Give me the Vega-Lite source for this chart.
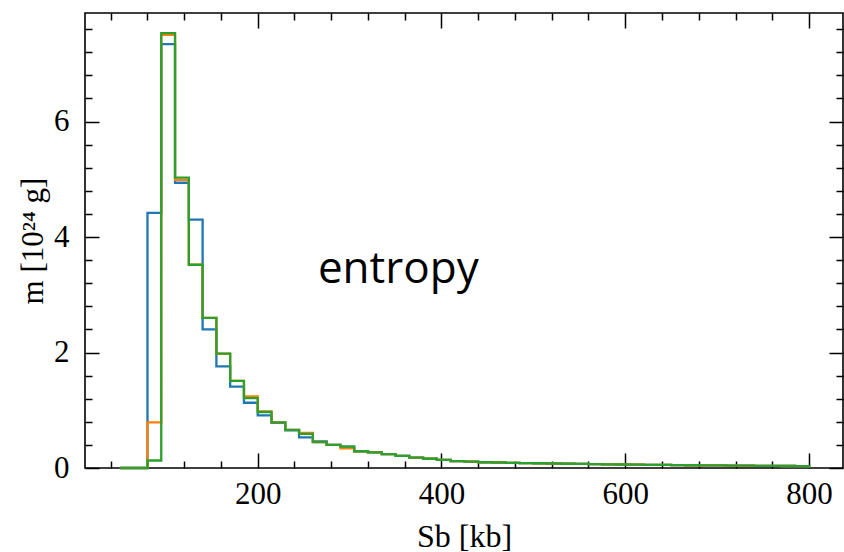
{
  "$schema": "https://vega.github.io/schema/vega-lite/v6.json",
  "width": 758,
  "height": 455,
  "autosize": "none",
  "padding": {"left": 85, "top": 13, "right": 1, "bottom": 84},
  "background": "white",
  "config": {
    "view": {"stroke": "black", "strokeWidth": 1.6},
    "axis": {
      "domain": false,
      "grid": false,
      "tickColor": "black",
      "tickWidth": 1.5,
      "labelColor": "black",
      "labelFont": "Liberation Serif",
      "labelFontSize": 31,
      "labelOverlap": false,
      "labelFlush": false,
      "titleColor": "black",
      "titleFont": "Liberation Serif",
      "titleFontSize": 31,
      "titleFontWeight": "normal"
    }
  },
  "layer": [
    {
      "data": {
        "values": [
          {"S": 50, "s1": 0, "s2": 0, "s3": 0},
          {"S": 65, "s1": 0, "s2": 0, "s3": 0},
          {"S": 80, "s1": 4.42, "s2": 0.79, "s3": 0.13},
          {"S": 95, "s1": 7.34, "s2": 7.5, "s3": 7.53},
          {"S": 110, "s1": 4.94, "s2": 4.99, "s3": 5.03},
          {"S": 125, "s1": 4.3, "s2": 3.52, "s3": 3.52},
          {"S": 140, "s1": 2.4, "s2": 2.6, "s3": 2.6},
          {"S": 155, "s1": 1.76, "s2": 1.98, "s3": 1.98},
          {"S": 170, "s1": 1.41, "s2": 1.51, "s3": 1.51},
          {"S": 185, "s1": 1.13, "s2": 1.24, "s3": 1.21},
          {"S": 200, "s1": 0.91, "s2": 0.98, "s3": 0.97},
          {"S": 215, "s1": 0.78, "s2": 0.79, "s3": 0.79},
          {"S": 230, "s1": 0.65, "s2": 0.66, "s3": 0.66},
          {"S": 245, "s1": 0.53, "s2": 0.61, "s3": 0.59},
          {"S": 260, "s1": 0.46, "s2": 0.45, "s3": 0.45},
          {"S": 275, "s1": 0.4, "s2": 0.4, "s3": 0.4},
          {"S": 290, "s1": 0.37, "s2": 0.34, "s3": 0.37},
          {"S": 305, "s1": 0.29, "s2": 0.29, "s3": 0.29},
          {"S": 320, "s1": 0.27, "s2": 0.27, "s3": 0.27},
          {"S": 335, "s1": 0.24, "s2": 0.24, "s3": 0.24},
          {"S": 350, "s1": 0.21, "s2": 0.21, "s3": 0.21},
          {"S": 365, "s1": 0.18, "s2": 0.18, "s3": 0.18},
          {"S": 380, "s1": 0.16, "s2": 0.16, "s3": 0.16},
          {"S": 395, "s1": 0.14, "s2": 0.14, "s3": 0.14},
          {"S": 410, "s1": 0.12, "s2": 0.12, "s3": 0.12},
          {"S": 425, "s1": 0.11, "s2": 0.11, "s3": 0.11},
          {"S": 440, "s1": 0.1, "s2": 0.1, "s3": 0.1},
          {"S": 455, "s1": 0.095, "s2": 0.095, "s3": 0.095},
          {"S": 470, "s1": 0.09, "s2": 0.09, "s3": 0.09},
          {"S": 485, "s1": 0.086, "s2": 0.086, "s3": 0.086},
          {"S": 500, "s1": 0.082, "s2": 0.082, "s3": 0.082},
          {"S": 515, "s1": 0.078, "s2": 0.078, "s3": 0.078},
          {"S": 530, "s1": 0.074, "s2": 0.074, "s3": 0.074},
          {"S": 545, "s1": 0.07, "s2": 0.07, "s3": 0.07},
          {"S": 560, "s1": 0.067, "s2": 0.067, "s3": 0.067},
          {"S": 575, "s1": 0.064, "s2": 0.064, "s3": 0.064},
          {"S": 590, "s1": 0.061, "s2": 0.061, "s3": 0.061},
          {"S": 605, "s1": 0.058, "s2": 0.058, "s3": 0.058},
          {"S": 620, "s1": 0.055, "s2": 0.055, "s3": 0.055},
          {"S": 635, "s1": 0.053, "s2": 0.053, "s3": 0.053},
          {"S": 650, "s1": 0.05, "s2": 0.05, "s3": 0.05},
          {"S": 665, "s1": 0.048, "s2": 0.048, "s3": 0.048},
          {"S": 680, "s1": 0.046, "s2": 0.046, "s3": 0.046},
          {"S": 695, "s1": 0.044, "s2": 0.044, "s3": 0.044},
          {"S": 710, "s1": 0.042, "s2": 0.042, "s3": 0.042},
          {"S": 725, "s1": 0.04, "s2": 0.04, "s3": 0.04},
          {"S": 740, "s1": 0.038, "s2": 0.038, "s3": 0.038},
          {"S": 755, "s1": 0.036, "s2": 0.036, "s3": 0.036},
          {"S": 770, "s1": 0.035, "s2": 0.035, "s3": 0.035},
          {"S": 785, "s1": 0.033, "s2": 0.033, "s3": 0.033},
          {"S": 800, "s1": 0, "s2": 0, "s3": 0}
        ]
      },
      "transform": [{"fold": ["s1", "s2", "s3"], "as": ["series", "m"]}],
      "mark": {"type": "line", "interpolate": "step-after", "strokeWidth": 2.3},
      "encoding": {
        "x": {
          "field": "S",
          "type": "quantitative",
          "scale": {"domain": [12, 837], "nice": false, "zero": false},
          "axis": {
            "orient": "bottom",
            "values": [40, 80, 120, 160, 200, 240, 280, 320, 360, 400, 440, 480, 520, 560, 600, 640, 680, 720, 760, 800],
            "tickSize": {"condition": {"test": "datum.value % 200 === 0", "value": -15}, "value": -7},
            "labelExpr": "datum.value % 200 === 0 ? format(datum.value, 'd') : ''",
            "labelPadding": 26,
            "title": "Sb  [kb]",
            "titleFontSize": 32,
            "titlePadding": 4
          }
        },
        "y": {
          "field": "m",
          "type": "quantitative",
          "scale": {"domain": [0, 7.88], "nice": false},
          "axis": {
            "orient": "left",
            "values": [0, 0.4, 0.8, 1.2, 1.6, 2, 2.4, 2.8, 3.2, 3.6, 4, 4.4, 4.8, 5.2, 5.6, 6, 6.4, 6.8, 7.2, 7.6],
            "tickSize": {"condition": {"test": "datum.value % 2 === 0", "value": -14}, "value": -7},
            "labelExpr": "datum.value % 2 === 0 ? format(datum.value, 'd') : ''",
            "labelPadding": 30,
            "title": "m [10²⁴ g]",
            "titlePadding": 4
          }
        },
        "color": {
          "field": "series",
          "type": "nominal",
          "scale": {"domain": ["s1", "s2", "s3"], "range": ["#1f77b4", "#ff7f0e", "#2ca02c"]},
          "legend": null
        }
      }
    },
    {
      "data": {"values": [{"S": 353, "m": 3.2, "label": "entropy"}]},
      "mark": {"type": "text", "font": "Open Sans", "fontSize": 44, "align": "center", "baseline": "alphabetic", "color": "black"},
      "encoding": {
        "x": {
          "field": "S",
          "type": "quantitative",
          "axis": {
            "orient": "top",
            "values": [40, 80, 120, 160, 200, 240, 280, 320, 360, 400, 440, 480, 520, 560, 600, 640, 680, 720, 760, 800],
            "tickSize": {"condition": {"test": "datum.value % 200 === 0", "value": -15}, "value": -7},
            "labels": false,
            "title": null
          }
        },
        "y": {
          "field": "m",
          "type": "quantitative",
          "axis": {
            "orient": "right",
            "values": [0, 0.4, 0.8, 1.2, 1.6, 2, 2.4, 2.8, 3.2, 3.6, 4, 4.4, 4.8, 5.2, 5.6, 6, 6.4, 6.8, 7.2, 7.6],
            "tickSize": {"condition": {"test": "datum.value % 2 === 0", "value": -14}, "value": -7},
            "labels": false,
            "title": null
          }
        },
        "text": {"field": "label"}
      }
    }
  ],
  "resolve": {"axis": {"x": "independent", "y": "independent"}}
}
